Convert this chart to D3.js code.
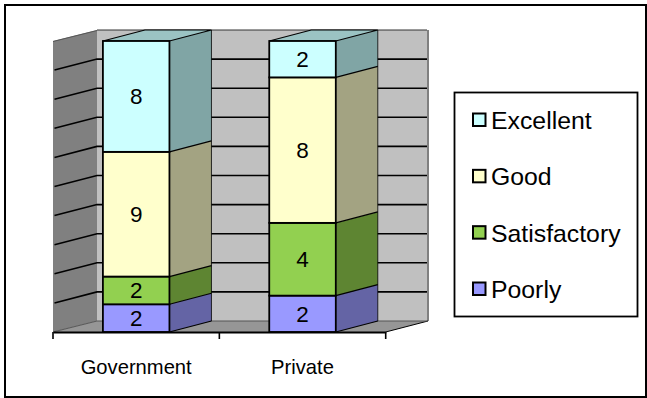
<!DOCTYPE html>
<html><head><meta charset="utf-8">
<script src="https://cdn.jsdelivr.net/npm/d3@7"></script>
<style>html,body{margin:0;padding:0;background:#fff}svg{display:block}text{font-family:"Liberation Sans",Arial,sans-serif;fill:#000}</style>
</head><body><script>
const categories = ["Government", "Private"];
const seriesNames = ["Poorly", "Satisfactory", "Good", "Excellent"];
const poorly = [2, 2];
const satisfactory = [2, 4];
const good = [9, 8];
const excellent = [8, 2];
const frontColors = ["#9999FF", "#92D050", "#FFFFCC", "#CCFFFF"];
const sideColors = ["#6464A5", "#5E8532", "#A3A382", "#80A5A5"];
const topColors = ["#7C7CCF", "#76A941", "#CFCFA5", "#9BC3C3"];
const legendOrder = ["Excellent", "Good", "Satisfactory", "Poorly"];

const W = 647, H = 398;
const svg = d3.select("body").append("svg").attr("width", W).attr("height", H);
svg.append("rect").attr("x",5).attr("y",5).attr("width",641).attr("height",392)
  .attr("fill","#fff").attr("stroke","#000").attr("stroke-width",2);

const table = categories.map((c,i)=>({cat:c,Poorly:poorly[i],Satisfactory:satisfactory[i],Good:good[i],Excellent:excellent[i]}));
const stacked = d3.stack().keys(seriesNames).offset(d3.stackOffsetExpand)(table);
const rawValues = [poorly, satisfactory, good, excellent];

const x = d3.scaleBand().domain(categories).range([53,385.7]).paddingInner(0.6).paddingOuter(0.3);
const y = d3.scaleLinear().domain([0,1]).range([332,41]);
const wallDx = 44, wallDy = -11, barDx = 42, barDy = -11;
const pts = a => a.map(p=>p.join(",")).join(" ");
const gridVals = d3.range(0,11).map(d=>d/10);

// walls and floor
svg.append("polygon").attr("points",pts([[53,y(0)],[53,y(1)],[53+wallDx,y(1)+wallDy],[53+wallDx,y(0)+wallDy]]))
  .attr("fill","#808080");
svg.append("polygon").attr("points",pts([[53+wallDx,y(1)+wallDy],[427,y(1)+wallDy],[427,y(0)+wallDy],[53+wallDx,y(0)+wallDy]]))
  .attr("fill","#C0C0C0");
svg.append("line").attr("x1",428).attr("x2",428).attr("y1",y(1)+wallDy).attr("y2",y(0)+wallDy).attr("stroke","#808080").attr("stroke-width",2);
svg.append("line").attr("x1",53).attr("x2",53+wallDx).attr("y1",y(1)+.5).attr("y2",y(1)+wallDy+.5).attr("stroke","#555").attr("stroke-width",1);
svg.append("line").attr("x1",53+wallDx).attr("x2",427).attr("y1",y(1)+wallDy).attr("y2",y(1)+wallDy).attr("stroke","#333").attr("stroke-width",1);
svg.append("polygon").attr("points",pts([[53,y(0)],[53+wallDx,y(0)+wallDy],[428,y(0)+wallDy],[385.7,y(0)]]))
  .attr("fill","#969696");

// gridlines
const grid = svg.append("g").attr("stroke","#000").attr("stroke-width",1.6).attr("fill","none");
gridVals.slice(1,10).forEach(v=>{
  grid.append("polyline").attr("points",pts([[54.5,y(v)],[53+wallDx,y(v)+wallDy],[427,y(v)+wallDy]]));
});
svg.append("line").attr("x1",53).attr("x2",53+wallDx).attr("y1",y(0)).attr("y2",y(0)+wallDy).attr("stroke","#555").attr("stroke-width",1);
svg.append("line").attr("x1",385.7).attr("x2",428).attr("y1",y(0)).attr("y2",y(0)+wallDy).attr("stroke","#000").attr("stroke-width",1);
svg.append("line").attr("x1",53+wallDx).attr("x2",428).attr("y1",y(0)+wallDy).attr("y2",y(0)+wallDy).attr("stroke","#555").attr("stroke-width",1);

// bars
categories.forEach((c,ci)=>{
  const g = svg.append("g");
  const x0 = x(c), x1 = x0 + x.bandwidth();
  stacked.forEach((s,si)=>{
    const d = s[ci], yb = y(d[0]), yt = y(d[1]);
    g.append("polygon").attr("points",pts([[x1,yb],[x1+barDx,yb+barDy],[x1+barDx,yt+barDy],[x1,yt]]))
      .attr("fill",sideColors[si]);
    g.append("line").attr("x1",x1).attr("x2",x1+barDx).attr("y1",yb).attr("y2",yb+barDy).attr("stroke","#000").attr("stroke-width",1.2);
  });
  const top = stacked[stacked.length-1][ci][1];
  g.append("polygon").attr("points",pts([[x0,y(top)],[x0+barDx,y(top)+barDy],[x1+barDx,y(top)+barDy],[x1,y(top)]]))
    .attr("fill",topColors[3]).attr("stroke","#000").attr("stroke-width",1.2);
  g.append("line").attr("x1",x1+barDx).attr("x2",x1+barDx).attr("y1",y(1)+barDy).attr("y2",y(0)+barDy).attr("stroke","#000").attr("stroke-width",.8);
  stacked.forEach((s,si)=>{
    const d = s[ci], yb = y(d[0]), yt = y(d[1]);
    g.append("rect").attr("x",x0).attr("y",yt).attr("width",x.bandwidth()).attr("height",yb-yt)
      .attr("fill",frontColors[si]).attr("stroke","#000").attr("stroke-width",1.8);
    g.append("text").attr("x",(x0+x1)/2).attr("y",(yb+yt)/2+8).attr("text-anchor","middle")
      .attr("font-size",22.5).text(rawValues[si][ci]);
  });
});

// axis
const axisG = svg.append("g").attr("transform",`translate(0,${y(0)})`)
  .call(d3.axisBottom(x).tickSize(0).tickPadding(0));
axisG.select(".domain").attr("stroke","#000").attr("stroke-width",1.8);
axisG.selectAll(".tick text").attr("font-size",20.2).attr("font-family",'"Liberation Sans",Arial,sans-serif')
  .attr("dy",0).attr("y",42);
const edges = [x.range()[0], (x.range()[0]+x.range()[1])/2, x.range()[1]];
axisG.selectAll(".edge").data(edges).enter().append("line").attr("class","edge")
  .attr("x1",d=>d).attr("x2",d=>d).attr("y1",0).attr("y2",7).attr("stroke","#000").attr("stroke-width",1.6);

// legend
svg.append("rect").attr("x",454.5).attr("y",92.5).attr("width",183).attr("height",224)
  .attr("fill","#fff").attr("stroke","#000").attr("stroke-width",1.8);
const ly = d3.scalePoint().domain(legendOrder).range([120,289]);
legendOrder.forEach(name=>{
  const si = seriesNames.indexOf(name);
  svg.append("rect").attr("x",473).attr("y",ly(name)-6.5).attr("width",12.5).attr("height",12.5)
    .attr("fill",frontColors[si]).attr("stroke","#000").attr("stroke-width",2);
  svg.append("text").attr("x",491).attr("y",ly(name)+9).attr("font-size",24.8).text(name);
});
</script></body></html>
